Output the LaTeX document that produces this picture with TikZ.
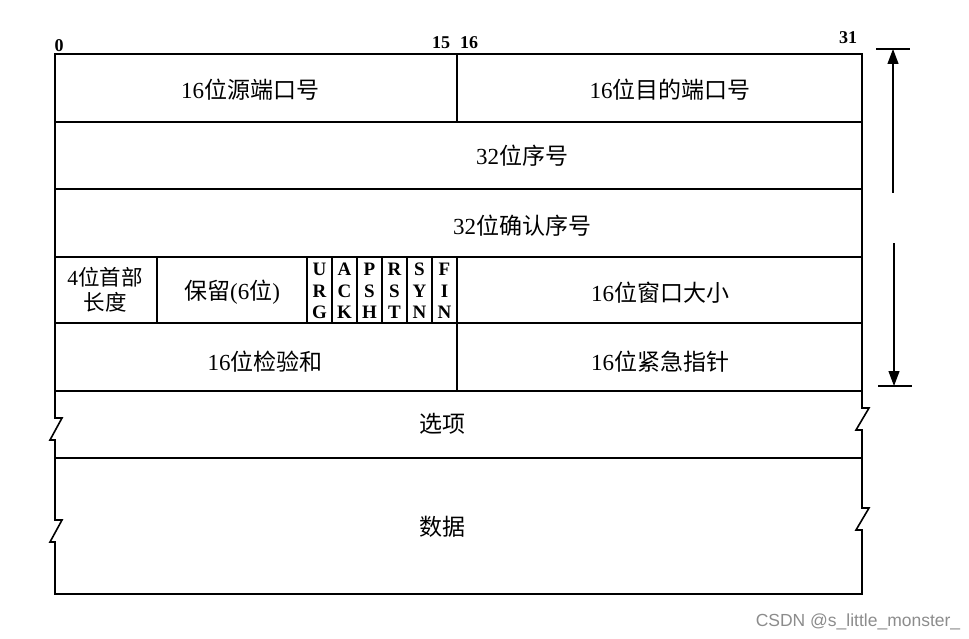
\documentclass[tikz,border=0pt]{standalone}
\usepackage{fontspec}
\setmainfont{Liberation Serif}
\newfontfamily\cjk{Noto Sans CJK SC}
\newfontfamily\wmfont{Liberation Sans}
\usetikzlibrary{arrows.meta}
\newcommand{\zh}[1]{{\cjk #1}}
\tikzset{
    field-text/.style = {font=\fontsize{23}{25}\selectfont, inner sep=0pt, align=center},
    flag-text/.style = {font=\fontsize{19}{21.5}\selectfont\bfseries, inner sep=0pt, align=center},
    bit-num/.style = {font=\fontsize{18}{18}\selectfont\bfseries, inner sep=0pt},
    frame-line/.style = {line width=1.6pt, line join=miter},
    span-arrow/.style = {line width=1.2pt, -{Triangle[length=15pt,width=11pt]}},
}

\begin{document}
\begin{tikzpicture}[x=1pt, y=-1pt]
\useasboundingbox (0,0) rectangle (969,639);

% outer frame, cut on both sides for the variable part
\draw[frame-line] (55,54) -- (862,54) -- (862,408) -- (869,408) -- (856,430) -- (862,430)
    -- (862,508) -- (869,508) -- (856,530) -- (862,530) -- (862,594) -- (55,594)
    -- (55,542) -- (50,542) -- (62,520) -- (55,520) -- (55,440) -- (50,440) -- (62,418)
    -- (55,418) -- cycle;

% rows
\foreach \y in {122,189,257,323,391,458}
    \draw[frame-line] (55,\y) -- (862,\y);

% columns
\draw[frame-line] (457,54) -- (457,122);
\draw[frame-line] (457,323) -- (457,391);
\foreach \x in {157,457}
    \draw[frame-line] (\x,257) -- (\x,323);
\foreach \x in {307,332,357,382,407,432}
    \draw[line width=2.4pt] (\x,257) -- (\x,323);

% bit numbers
\node[bit-num] (b0) at (59,46) {0};
\node[bit-num] (b15) at (441,43) {15};
\node[bit-num] (b16) at (469,43) {16};
\node[bit-num] (b31) at (848,38) {31};

% fields
\node[field-text] (src) at (250,90) {16\zh{位源端口号}};
\node[field-text] (dst) at (670,90) {16\zh{位目的端口号}};
\node[field-text] (seq) at (522,156) {32\zh{位序号}};
\node[field-text] (ack) at (522,226) {32\zh{位确认序号}};
\node[field-text, font=\fontsize{21.5}{25}\selectfont] (hlen) at (105,290) {4\zh{位首部}\\\zh{长度}};
\node[field-text] (rsv) at (232,292) {\zh{保留}(6\zh{位})};
\node[field-text] (win) at (660,293) {16\zh{位窗口大小}};
\node[field-text] (chk) at (265,362) {16\zh{位检验和}};
\node[field-text] (urp) at (660,362) {16\zh{位紧急指针}};
\node[field-text] (opt) at (442,424) {\zh{选项}};
\node[field-text] (data) at (442,527) {\zh{数据}};

% flags
\foreach \name/\txt [count=\i] in {urg/U\\R\\G, ack/A\\C\\K, psh/P\\S\\H, rst/R\\S\\T, syn/S\\Y\\N, fin/F\\I\\N}
    \node[flag-text] (\name-flag) at (294.5+\i*25,291) {\txt};

% header size marker
\coordinate (top) at (893,49);
\coordinate (top-gap) at (893,193);
\coordinate (bot-gap) at (894,243);
\coordinate (bot) at (894,386);
\draw[line width=1.2pt] ([xshift=-17pt]top) -- ([xshift=17pt]top);
\draw[line width=1.2pt] ([xshift=-16pt]bot) -- ([xshift=18pt]bot);
\draw[span-arrow] (top-gap) -- (top);
\draw[span-arrow] (bot-gap) -- (bot);

\node[text=black!45, font=\wmfont\fontsize{17.5}{18}\selectfont] (mark) at (858,622) {CSDN @s\_little\_monster\_};
\end{tikzpicture}
\end{document}
